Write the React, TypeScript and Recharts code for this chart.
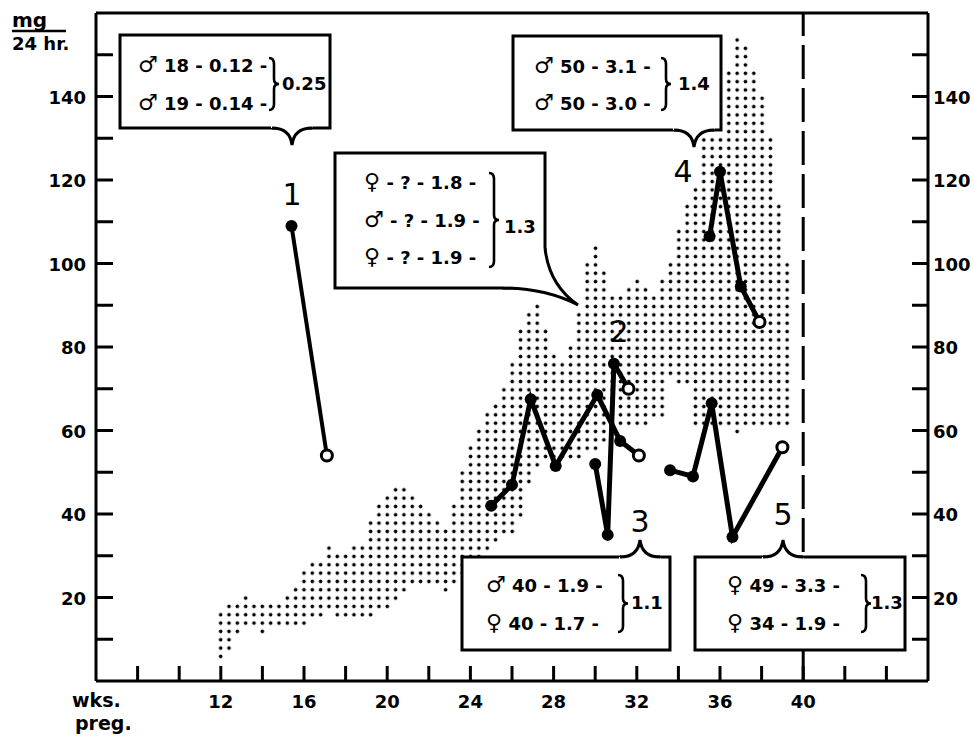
import React from "react";
import { ComposedChart, XAxis, YAxis, Area, Line, ReferenceLine } from "recharts";

// axes
const xTicks = [8, 10, 12, 14, 16, 18, 20, 22, 24, 26, 28, 30, 32, 34, 36, 38, 40, 42, 44];
const xLabels = [12, 16, 20, 24, 28, 32, 36, 40];
const yTicks = [10, 20, 30, 40, 50, 60, 70, 80, 90, 100, 110, 120, 130, 140, 150];
const yLabels = [20, 40, 60, 80, 100, 120, 140];

// stippled band (one stipple column every 0.4 wk)
const shadeWeeks = [
  12, 12.4, 12.8, 13.2, 13.6, 14, 14.4, 14.8, 15.2, 15.6, 16, 16.4, 16.8, 17.2, 17.6, 18, 18.4, 18.8,
  19.2, 19.6, 20, 20.4, 20.8, 21.2, 21.6, 22, 22.4, 22.8, 23.2, 23.6, 24, 24.4, 24.8, 25.2, 25.6, 26,
  26.4, 26.8, 27.2, 27.6, 28, 28.4, 28.8, 29.2, 29.6, 30, 30.4, 30.8, 31.2, 31.6, 32, 32.4, 32.8, 33.2,
  33.6, 34, 34.4, 34.8, 35.2, 35.6, 36, 36.4, 36.8, 37.2, 37.6, 38, 38.4, 38.8, 39.2,
];
const shadeLow = [
  6, 8, 12, 14, 14, 12, 14, 14, 14, 14, 14, 16, 16, 18, 16, 16, 16, 16,
  16, 18, 18, 20, 22, 24, 24, 24, 24, 22, 24, 26, 28, 30, 32, 34, 36, 36,
  40, 48, 52, 54, 54, 54, 54, 54, 56, 56, 58, 62, 62, 62, 62, 62, 64, 64,
  74, 72, 72, 62, 62, 62, 62, 62, 60, 62, 62, 62, 62, 62, 62,
];
const shadeHigh = [
  16, 18, 18, 20, 18, 18, 18, 18, 20, 22, 26, 28, 28, 32, 30, 30, 32, 32,
  38, 42, 44, 46, 46, 44, 42, 40, 38, 36, 42, 50, 56, 60, 64, 66, 70, 76,
  84, 88, 90, 84, 78, 76, 80, 88, 100, 104, 98, 92, 92, 94, 96, 94, 92, 96,
  100, 108, 114, 118, 130, 130, 130, 146, 154, 152, 146, 140, 130, 114, 100,
];

// individual pregnancies (last point = open circle)
const s1Weeks = [15.4, 17.1];
const s1Values = [109, 54];
const s2Weeks = [30.0, 30.6, 30.9, 31.6];
const s2Values = [52, 35, 76, 70];
const s3Weeks = [25.0, 26.0, 26.9, 28.1, 30.1, 31.2, 32.1];
const s3Values = [42, 47, 67.5, 51.5, 68.5, 57.5, 54];
const s4Weeks = [35.5, 36.0, 37.0, 37.9];
const s4Values = [106.5, 122, 94.5, 86];
const s5Weeks = [33.6, 34.7, 35.6, 36.6, 39.0];
const s5Values = [50.5, 49, 66.5, 34.5, 56];

const FONT = "'DejaVu Sans', sans-serif";
const PLOT_LEFT = 96;
const PLOT_RIGHT = 928;
const PLOT_BOTTOM = 681;
const HALF_COL = 0.2;
const HALF_ROW = 1;

const shadeData = [
  ...shadeWeeks.map((w, i) => ({ week: w - HALF_COL, range: [shadeLow[i] - HALF_ROW, shadeHigh[i] + HALF_ROW] })),
  {
    week: shadeWeeks[shadeWeeks.length - 1] + HALF_COL,
    range: [shadeLow[shadeLow.length - 1] - HALF_ROW, shadeHigh[shadeHigh.length - 1] + HALF_ROW],
  },
];

const toSeries = (weeks: number[], values: number[]) => weeks.map((w, i) => ({ week: w, v: values[i] }));
const series = [
  toSeries(s1Weeks, s1Values),
  toSeries(s2Weeks, s2Values),
  toSeries(s3Weeks, s3Values),
  toSeries(s4Weeks, s4Values),
  toSeries(s5Weeks, s5Values),
];

const makeDot = (n: number) => (props: any) => {
  const { cx, cy, index } = props;
  if (index === n - 1) {
    return <circle key={index} cx={cx} cy={cy} r={5.5} fill="#fff" stroke="#000" strokeWidth={3} />;
  }
  return <circle key={index} cx={cx} cy={cy} r={6} fill="#000" />;
};

const LeftTick = (props: any) => {
  const { y, payload } = props;
  return (
    <g>
      <line x1={PLOT_LEFT} x2={PLOT_LEFT + 17} y1={y} y2={y} stroke="#000" strokeWidth={3} />
      {yLabels.includes(payload.value) && (
        <text x={86} y={y + 7} textAnchor="end" fontSize={18} fontWeight="bold" fontFamily={FONT} fill="#000">
          {payload.value}
        </text>
      )}
    </g>
  );
};

const RightTick = (props: any) => {
  const { y, payload } = props;
  return (
    <g>
      <line x1={PLOT_RIGHT} x2={PLOT_RIGHT - 16} y1={y} y2={y} stroke="#000" strokeWidth={3} />
      {yLabels.includes(payload.value) && (
        <text x={933} y={y + 7} textAnchor="start" fontSize={18} fontWeight="bold" fontFamily={FONT} fill="#000">
          {payload.value}
        </text>
      )}
    </g>
  );
};

const BottomTick = (props: any) => {
  const { x, payload } = props;
  return (
    <g>
      <line x1={x} x2={x} y1={PLOT_BOTTOM} y2={PLOT_BOTTOM - 15} stroke="#000" strokeWidth={3} />
      {xLabels.includes(payload.value) && (
        <text x={x} y={708} textAnchor="middle" fontSize={18} fontWeight="bold" fontFamily={FONT} fill="#000">
          {payload.value}
        </text>
      )}
    </g>
  );
};

const Brace = ({ x, y1, y2 }: { x: number; y1: number; y2: number }) => {
  const m = (y1 + y2) / 2;
  return (
    <path
      d={`M ${x - 5} ${y1} Q ${x} ${y1} ${x} ${y1 + 6} L ${x} ${m - 5} Q ${x} ${m} ${x + 5} ${m} Q ${x} ${m} ${x} ${m + 5} L ${x} ${y2 - 6} Q ${x} ${y2} ${x - 5} ${y2}`}
      fill="none"
      stroke="#000"
      strokeWidth={2.6}
    />
  );
};

// box with a brace-shaped pointer on top or bottom edge
const Callout = ({ x, y, w, h, px, dir }: { x: number; y: number; w: number; h: number; px: number; dir: 1 | -1 }) => {
  const ey = dir === 1 ? y + h : y;
  const tip = ey + dir * 17;
  const open = `M ${px - 20} ${ey} Q ${px - 2} ${ey} ${px} ${tip} Q ${px + 2} ${ey} ${px + 20} ${ey}`;
  return (
    <g>
      <rect x={x} y={y} width={w} height={h} fill="#fff" stroke="#000" strokeWidth={3} />
      <path d={`M ${px - 21} ${ey - dir * 3} L ${px - 21} ${ey} ${open.slice(open.indexOf("Q"))} L ${px + 21} ${ey - dir * 3} Z`} fill="#fff" stroke="none" />
      <path d={open} fill="none" stroke="#000" strokeWidth={3} />
    </g>
  );
};

// one row of a box: sex symbol, then the rest
const Row = ({ x, y, sym, t }: { x: number; y: number; sym: string; t: string }) => (
  <text x={x} y={y} fontSize={18} fontWeight="bold" fontFamily={FONT} fill="#000">
    <tspan fontSize={22}>{sym}</tspan>
    {t}
  </text>
);

const Num = ({ x, y, t }: { x: number; y: number; t: string }) => (
  <text x={x} y={y} fontSize={18} fontWeight="bold" fontFamily={FONT} fill="#000">
    {t}
  </text>
);

const MALE = "\u2642";
const FEMALE = "\u2640";

export default function App() {
  return (
    <div style={{ position: "absolute", left: 0, top: 0, width: 974, height: 740, background: "#fff" }}>
      <ComposedChart width={974} height={740} margin={{ top: 13, right: 0, bottom: 0, left: 36 }}>
        <defs>
          <pattern id="stipple" x={216.5} y={2.5} width={8.33} height={8.33} patternUnits="userSpaceOnUse">
            <circle cx={4.17} cy={4.17} r={1.8} fill="#000" />
          </pattern>
        </defs>
        <XAxis
          type="number"
          dataKey="week"
          domain={[6, 46]}
          ticks={xTicks}
          interval={0}
          allowDataOverflow
          height={59}
          tickLine={false}
          tick={BottomTick}
          axisLine={{ stroke: "#000", strokeWidth: 3 }}
        />
        <YAxis
          yAxisId="l"
          type="number"
          domain={[0, 160]}
          ticks={yTicks}
          interval={0}
          allowDataOverflow
          width={60}
          tickLine={false}
          tick={LeftTick}
          axisLine={{ stroke: "#000", strokeWidth: 3 }}
        />
        <YAxis
          yAxisId="r"
          orientation="right"
          type="number"
          domain={[0, 160]}
          ticks={yTicks}
          interval={0}
          allowDataOverflow
          width={46}
          tickLine={false}
          tick={RightTick}
          axisLine={{ stroke: "#000", strokeWidth: 3 }}
        />
        <ReferenceLine yAxisId="l" y={160} stroke="#000" strokeWidth={3} />
        <Area
          yAxisId="l"
          data={shadeData}
          dataKey="range"
          type="stepAfter"
          fill="url(#stipple)"
          fillOpacity={1}
          stroke="none"
          isAnimationActive={false}
        />
        <ReferenceLine yAxisId="l" x={40} stroke="#000" strokeWidth={3} strokeDasharray="34 9" />
        {series.map((d, i) => (
          <Line
            key={i}
            yAxisId="l"
            data={d}
            dataKey="v"
            type="linear"
            stroke="#000"
            strokeWidth={i === 0 ? 4 : 5}
            dot={makeDot(d.length)}
            activeDot={false}
            isAnimationActive={false}
          />
        ))}
      </ComposedChart>

      <svg width={974} height={740} style={{ position: "absolute", left: 0, top: 0, pointerEvents: "none" }}>
        {/* unit labels */}
        <text x={12} y={27} fontSize={20} fontWeight="bold" fontFamily={FONT} fill="#000">mg</text>
        <line x1={12} x2={66} y1={31} y2={31} stroke="#000" strokeWidth={2.5} />
        <text x={12} y={50} fontSize={18} fontWeight="bold" fontFamily={FONT} fill="#000">24 hr.</text>
        <text x={72} y={707} fontSize={19} fontWeight="bold" fontFamily={FONT} fill="#000">wks.</text>
        <text x={75} y={730} fontSize={19} fontWeight="bold" fontFamily={FONT} fill="#000">preg.</text>

        {/* box 1 */}
        <Callout x={120} y={35} w={210} h={93} px={292} dir={1} />
        <Row x={138} y={72} sym={MALE} t={" 18 - 0.12 -"} />
        <Row x={138} y={110} sym={MALE} t={" 19 - 0.14 -"} />
        <Brace x={274} y1={58} y2={110} />
        <Num x={282} y={90} t="0.25" />

        {/* box 2 */}
        <g>
          <rect x={335} y={153} width={210} height={135} fill="#fff" stroke="#000" strokeWidth={3} />
          <path d="M 543 248 L 545 248 Q 549 285 578 305 Q 545 288 502 288 L 502 284 L 543 284 Z" fill="#fff" stroke="none" />
          <path d="M 545 248 Q 549 285 578 305 Q 545 288 502 288" fill="none" stroke="#000" strokeWidth={3} />
        </g>
        <Row x={364} y={189} sym={FEMALE} t={" - ? - 1.8 -"} />
        <Row x={364} y={227} sym={MALE} t={" - ? - 1.9 -"} />
        <Row x={364} y={264} sym={FEMALE} t={" - ? - 1.9 -"} />
        <Brace x={494} y1={173} y2={267} />
        <Num x={504} y={233} t="1.3" />

        {/* box 3 */}
        <Callout x={462} y={557} w={208} h={93} px={640} dir={-1} />
        <Row x={486} y={592} sym={MALE} t={" 40 - 1.9 -"} />
        <Row x={486} y={630} sym={FEMALE} t={" 40 - 1.7 -"} />
        <Brace x={623} y1={575} y2={632} />
        <Num x={631} y={609} t="1.1" />

        {/* box 4 */}
        <Callout x={513} y={36} w={208} h={94} px={694} dir={1} />
        <Row x={534} y={73} sym={MALE} t={" 50 - 3.1 -"} />
        <Row x={534} y={110} sym={MALE} t={" 50 - 3.0 -"} />
        <Brace x={666} y1={58} y2={110} />
        <Num x={678} y={90} t="1.4" />

        {/* box 5 */}
        <Callout x={695} y={557} w={210} h={93} px={783} dir={-1} />
        <Row x={727} y={592} sym={FEMALE} t={" 49 - 3.3 -"} />
        <Row x={727} y={630} sym={FEMALE} t={" 34 - 1.9 -"} />
        <Brace x={866} y1={575} y2={632} />
        <Num x={871} y={609} t="1.3" />

        {/* series numbers */}
        <text x={292} y={205} textAnchor="middle" fontSize={30} fontFamily={FONT} fill="#000">1</text>
        <text x={619} y={342} textAnchor="middle" fontSize={30} fontFamily={FONT} fill="#000">2</text>
        <text x={640} y={532} textAnchor="middle" fontSize={30} fontFamily={FONT} fill="#000">3</text>
        <text x={683} y={182} textAnchor="middle" fontSize={30} fontFamily={FONT} fill="#000">4</text>
        <text x={783} y={525} textAnchor="middle" fontSize={30} fontFamily={FONT} fill="#000">5</text>
      </svg>
    </div>
  );
}
